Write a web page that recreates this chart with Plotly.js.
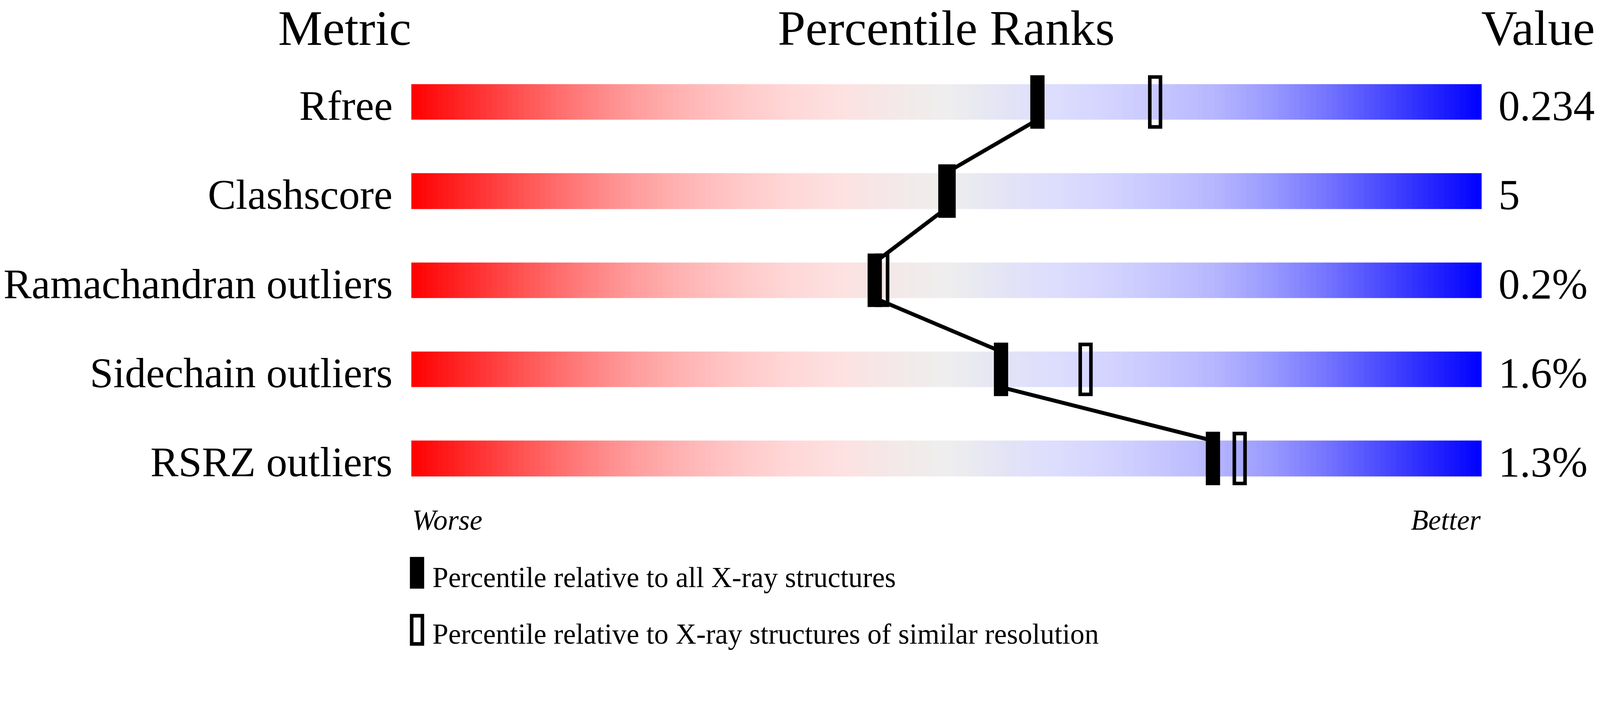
<!DOCTYPE html>
<html>
<head>
<meta charset="utf-8">
<script src="https://cdn.plot.ly/plotly-3.0.1.min.js"></script>
<style>
    html, body { margin: 0; padding: 0; background: #ffffff; overflow: hidden; }
</style>
</head>
<body>
<div id="chart"></div>
<script>
// percentile ranks slider chart — one band per validation metric.

const METRICS = ["Rfree", "Clashscore", "Ramachandran outliers", "Sidechain outliers", "RSRZ outliers"];
const VALUES = ["0.234", "5", "0.2%", "1.6%", "1.3%"];
// percentile relative to all X-ray structures (filled marker)
const PCT_ALL = [58.5, 49.9, 43.3, 55.1, 74.9];
// percentile relative to structures of similar resolution (open marker)
const PCT_SIMILAR = [69.5, 50.2, 44.0, 63.0, 77.4];

const LEGEND_ALL = "Percentile relative to all X-ray structures";
const LEGEND_SIMILAR = "Percentile relative to X-ray structures of similar resolution";

const GRADIENT = [
    [0.00, "rgb(255,0,0)"],
    [0.05, "rgb(255,40,40)"],
    [0.10, "rgb(255,80,80)"],
    [0.15, "rgb(255,118,118)"],
    [0.20, "rgb(255,152,152)"],
    [0.25, "rgb(255,178,178)"],
    [0.30, "rgb(255,198,198)"],
    [0.35, "rgb(255,214,214)"],
    [0.40, "rgb(253,225,225)"],
    [0.45, "rgb(244,232,232)"],
    [0.50, "rgb(238,238,238)"],
    [0.55, "rgb(228,228,245)"],
    [0.60, "rgb(221,221,254)"],
    [0.65, "rgb(212,212,255)"],
    [0.70, "rgb(198,198,255)"],
    [0.75, "rgb(182,182,255)"],
    [0.80, "rgb(155,155,255)"],
    [0.85, "rgb(120,120,255)"],
    [0.90, "rgb(80,80,255)"],
    [0.95, "rgb(40,40,255)"],
    [1.00, "rgb(0,0,255)"],
];

// reference geometry, in reference pixels (4485 x 1824)
const W = 4485, H = 1824;
const BAND_LEFT = 1153, PX_PER_PCT = 30;   // band spans 1153..4153 px
const ROW0 = 286, ROW_STEP = 250;          // row centres in px
const STEPS = 200;                         // colour cells per band
const FONT = "Liberation Serif, Times New Roman, serif";

// fit the drawing to whatever window we get
const S = Math.min((window.innerWidth || W) / W, (window.innerHeight || H) / H);
const sz = v => v * S;

// reference pixel -> axis units
const ux = px => (px - BAND_LEFT) / PX_PER_PCT;
const uy = py => (py - ROW0) / ROW_STEP;
// baseline-anchored text: centre of the text box sits above the baseline
const mid = (baseline, size) => uy(baseline - 0.3375 * size);

const rows = METRICS.map((_, i) => i);

// gradient bands: one heatmap, null rows between the bands
const bandEdgesY = [];
const bandZ = [];
const cells = [];
for (let k = 0; k < STEPS; k++) cells.push((k + 0.5) * 100 / STEPS);
const edgesX = [];
for (let k = 0; k <= STEPS; k++) edgesX.push(k * 100 / STEPS);
rows.forEach(i => {
    bandEdgesY.push(i - 0.2, i + 0.2);
    bandZ.push(cells);
    if (i < rows.length - 1) bandZ.push(cells.map(() => null));
});

const bands = {
    type: "heatmap",
    x: edgesX,
    y: bandEdgesY,
    z: bandZ,
    zmin: 0, zmax: 100,
    colorscale: GRADIENT,
    showscale: false,
    zsmooth: false,
    hoverinfo: "skip",
};

// line joining the filled markers, bottom of one band to top of the next
const lx = [], ly = [];
rows.forEach(i => {
    if (i > 0) { lx.push(PCT_ALL[i]); ly.push(i - 0.2); }
    lx.push(PCT_ALL[i]); ly.push(i + 0.2);
});
lx.pop(); ly.pop();
const link = {
    type: "scatter", mode: "lines",
    x: lx, y: ly,
    line: { color: "#000000", width: sz(11) },
    hoverinfo: "skip",
};

const openMarks = {
    type: "bar",
    x: PCT_SIMILAR,
    y: rows.map(() => 140 / ROW_STEP),
    base: rows.map(i => i - 70 / ROW_STEP),
    width: 30 / PX_PER_PCT,
    marker: { color: "rgba(0,0,0,0)", line: { color: "#000000", width: sz(10) } },
    hoverinfo: "skip",
};

const filledMarks = {
    type: "bar",
    x: PCT_ALL,
    y: rows.map(() => 150 / ROW_STEP),
    base: rows.map(i => i - 75 / ROW_STEP),
    width: 40 / PX_PER_PCT,
    marker: { color: "#000000", line: { width: 0 } },
    hoverinfo: "skip",
};

function txt(text, x, y, size, anchor, italic) {
    return {
        text, x, y, xref: "x", yref: "y",
        xanchor: anchor, yanchor: "middle",
        showarrow: false,
        font: { family: FONT, size: sz(size), color: "#000000", style: italic ? "italic" : "normal" },
    };
}

const HEAD_BASE = 126;
const annotations = [
    txt("Metric", ux(1155), mid(HEAD_BASE, 140), 140, "right"),
    txt("Percentile Ranks", 50, mid(HEAD_BASE, 140), 140, "center"),
    txt("Value", ux(4150), mid(HEAD_BASE, 140), 140, "left"),
    txt("Worse", ux(1153), mid(1486, 80), 80, "left", true),
    txt("Better", ux(4153), mid(1486, 80), 80, "right", true),
    txt(LEGEND_ALL, ux(1210), mid(1647, 80), 80, "left"),
    txt(LEGEND_SIMILAR, ux(1210), mid(1806, 80), 80, "left"),
];
rows.forEach(i => {
    annotations.push(txt(METRICS[i], ux(1103), mid(ROW0 + i * ROW_STEP + 50, 118), 118, "right"));
    annotations.push(txt(VALUES[i], ux(4198), mid(ROW0 + i * ROW_STEP + 51, 120), 120, "left"));
});

// legend glyphs
const shapes = [
    { type: "rect", xref: "x", yref: "y",
      x0: ux(1149), x1: ux(1189), y0: uy(1562), y1: uy(1651),
      fillcolor: "#000000", line: { width: 0 } },
    { type: "rect", xref: "x", yref: "y",
      x0: ux(1154), x1: ux(1184), y0: uy(1727), y1: uy(1806),
      fillcolor: "rgba(0,0,0,0)", line: { color: "#000000", width: sz(10) } },
];

const layout = {
    width: sz(W), height: sz(H),
    margin: { t: 0, b: 0, l: 0, r: 0, pad: 0 },
    paper_bgcolor: "#ffffff",
    plot_bgcolor: "#ffffff",
    barmode: "overlay",
    showlegend: false,
    xaxis: {
        range: [ux(0), ux(W)],
        visible: false, fixedrange: true,
    },
    yaxis: {
        range: [uy(H), uy(0)],
        visible: false, fixedrange: true,
    },
    annotations,
    shapes,
};

Plotly.newPlot("chart", [bands, openMarks, filledMarks, link], layout,
    { displayModeBar: false, staticPlot: true });
</script>
</body>
</html>
